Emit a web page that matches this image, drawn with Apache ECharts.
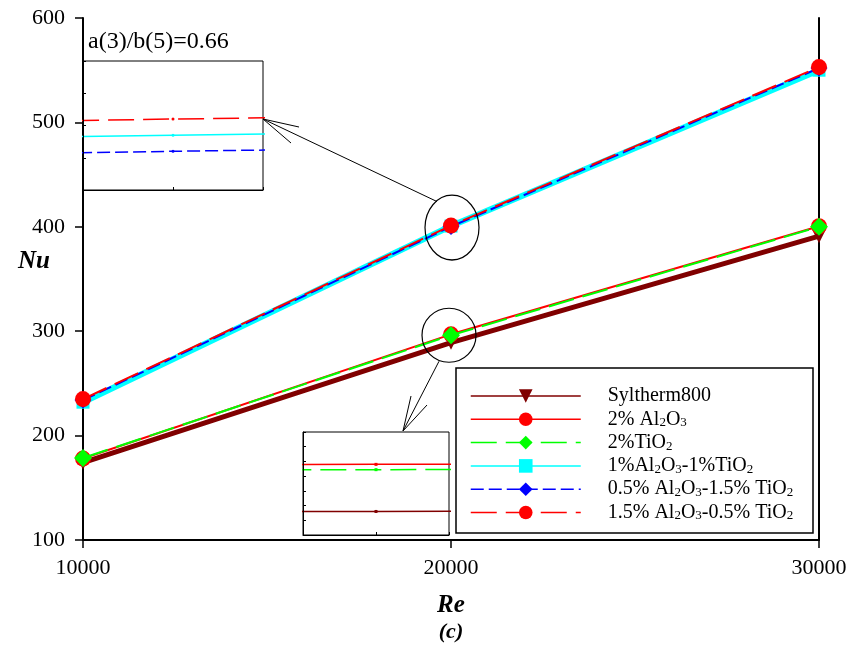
<!DOCTYPE html>
<html><head><meta charset="utf-8">
<script src="https://cdn.jsdelivr.net/npm/echarts@6/dist/echarts.min.js"></script>
<style>html,body{margin:0;padding:0;background:#fff}#c{width:851px;height:648px}</style>
</head><body><div id="c"></div>
<script>
// ---- data ----
const reValues = [10000, 20000, 30000];
const syltherm = [174, 289, 391];
const al2o3 = [178, 297, 400.5];
const tio2 = [178.5, 296.1, 400];
const hyb11 = [232, 400.7, 550];
const hyb0515 = [234, 400.2, 552];
const hyb1505 = [235, 401.2, 553];
const seriesNames = ['Syltherm800', '2% Al2O3', '2%TiO2', '1%Al2O3-1%TiO2', '0.5% Al2O3-1.5% TiO2', '1.5% Al2O3-0.5% TiO2'];
const legendRich = {
  'Syltherm800': 'Syltherm800',
  '2% Al2O3': '2% Al{s|2}O{s|3}',
  '2%TiO2': '2%TiO{s|2}',
  '1%Al2O3-1%TiO2': '1%Al{s|2}O{s|3}-1%TiO{s|2}',
  '0.5% Al2O3-1.5% TiO2': '0.5% Al{s|2}O{s|3}-1.5% TiO{s|2}',
  '1.5% Al2O3-0.5% TiO2': '1.5% Al{s|2}O{s|3}-0.5% TiO{s|2}'
};
const yTickMin = 100, yTickMax = 600, yTickStep = 100;
const xTickMin = 10000, xTickMax = 30000, xTickStep = 10000;

const FONT = 'Liberation Serif';
const pairs = arr => reValues.map((x, i) => [x, arr[i]]);

const styles = [
  {data: syltherm, color: '#800000', width: 5, type: 'solid', symbol: 'triangle', rot: 180, size: 14},
  {data: al2o3, color: '#ff0000', width: 2, type: 'solid', symbol: 'circle', rot: 0, size: 16},
  {data: tio2, color: '#00ff00', width: 2, type: [26, 9], symbol: 'diamond', rot: 0, size: 18},
  {data: hyb11, color: '#00ffff', width: 6, type: 'solid', symbol: 'rect', rot: 0, size: 13},
  {data: hyb0515, color: '#0000ff', width: 2, type: [13, 5], symbol: 'diamond', rot: 0, size: 17},
  {data: hyb1505, color: '#ff0000', width: 2, type: [26, 9], symbol: 'circle', rot: 0, size: 16}
];

const series = [];
styles.forEach((s, i) => {
  series.push({
    name: seriesNames[i], type: 'line', xAxisIndex: 0, yAxisIndex: 0,
    data: pairs(s.data), symbol: s.symbol, symbolRotate: s.rot, symbolSize: s.size,
    lineStyle: {color: s.color, width: s.width, type: s.type},
    itemStyle: {color: s.color}, animation: false, z: 2 + i * 0.01
  });
});
// upper inset (zoom of hybrid curves at Re=20000)
[3, 4, 5].forEach(i => {
  const s = styles[i];
  series.push({
    name: seriesNames[i] + ' (inset a)', type: 'line', xAxisIndex: 1, yAxisIndex: 2,
    data: pairs(s.data), symbol: 'circle', symbolSize: 3, clip: true, silent: true, z: 8,
    lineStyle: {color: s.color, width: 1.5, type: s.type}, itemStyle: {color: s.color}, animation: false
  });
});
// lower inset (zoom of base fluid / mono nanofluid curves at Re=20000)
[0, 1, 2].forEach(i => {
  const s = styles[i];
  series.push({
    name: seriesNames[i] + ' (inset b)', type: 'line', xAxisIndex: 2, yAxisIndex: 3,
    data: pairs(s.data), symbol: 'rect', symbolSize: 3, clip: true, silent: true, z: 8,
    lineStyle: {color: s.color, width: 1.5, type: s.type}, itemStyle: {color: s.color}, animation: false
  });
});

const insetAxis = {
  axisLine: {show: true, lineStyle: {color: '#000', width: 1}},
  axisTick: {show: true, inside: true, length: 3, lineStyle: {color: '#000'}},
  axisLabel: {show: false}, splitLine: {show: false}, z: 9
};

const chart = echarts.init(document.getElementById('c'));
const option = {
  backgroundColor: '#fff',
  animation: false,
  grid: [
    {left: 83, right: 32, top: 18, bottom: 108},
    {left: 83, top: 61, width: 180, height: 129, show: true, borderColor: '#000', borderWidth: 1, backgroundColor: '#fff'},
    {left: 303, top: 432, width: 146, height: 103, show: true, borderColor: '#000', borderWidth: 1, backgroundColor: '#fff'}
  ],
  xAxis: [
    {gridIndex: 0, type: 'value', min: xTickMin, max: xTickMax, interval: xTickStep,
     axisLine: {lineStyle: {color: '#000', width: 2}},
     axisTick: {length: 8, lineStyle: {color: '#000', width: 1.5}},
     axisLabel: {fontSize: 22, color: '#000', fontFamily: FONT, margin: 17, formatter: v => String(v)},
     splitLine: {show: false},
     name: 'Re', nameLocation: 'middle', nameGap: 53,
     nameTextStyle: {fontStyle: 'italic', fontWeight: 'bold', fontSize: 25, color: '#000', fontFamily: FONT}},
    Object.assign({gridIndex: 1, type: 'value', min: 19997.5, max: 20002.5, interval: 2.5}, insetAxis),
    Object.assign({gridIndex: 2, type: 'value', min: 19998, max: 20002, interval: 2}, insetAxis)
  ],
  yAxis: [
    {gridIndex: 0, type: 'value', min: yTickMin, max: yTickMax, interval: yTickStep,
     axisLine: {show: true, lineStyle: {color: '#000', width: 2}},
     axisTick: {show: true, length: 8, lineStyle: {color: '#000', width: 1.5}},
     axisLabel: {fontSize: 22, color: '#000', fontFamily: FONT, margin: 18},
     splitLine: {show: false}},
    {gridIndex: 0, type: 'value', position: 'right', min: yTickMin, max: yTickMax, interval: yTickStep,
     axisLine: {show: true, lineStyle: {color: '#000', width: 2}},
     axisTick: {show: false}, axisLabel: {show: false}, splitLine: {show: false}},
    Object.assign({gridIndex: 1, type: 'value', min: 399, max: 403, interval: 1}, insetAxis),
    Object.assign({gridIndex: 2, type: 'value', min: 285, max: 302.5, interval: 2.5}, insetAxis)
  ],
  legend: {
    orient: 'vertical', left: 470, top: 386, padding: 0, itemWidth: 110, itemHeight: 17, itemGap: 3.3,
    selectedMode: false, data: seriesNames, z: 10,
    lineStyle: {width: 1.5},
    formatter: name => legendRich[name],
    textStyle: {fontFamily: FONT, fontSize: 20, color: '#000', padding: [0, 0, 0, 22],
      rich: {s: {fontFamily: FONT, fontSize: 13, color: '#000', verticalAlign: 'bottom', padding: [7, 0, 0, 0]}}}
  },
  series: series
};
chart.setOption(option);

const pUp = chart.convertToPixel({xAxisIndex: 0, yAxisIndex: 0}, [reValues[1], hyb1505[1]]);
const pLo = chart.convertToPixel({xAxisIndex: 0, yAxisIndex: 0}, [reValues[1], tio2[1]]);
const ln = (x1, y1, x2, y2) => ({type: 'line', shape: {x1, y1, x2, y2}, style: {stroke: '#000', lineWidth: 1}, z: 20, silent: true});

chart.setOption({
  graphic: [
    {type: 'rect', shape: {x: 456, y: 368, width: 357, height: 165}, style: {fill: '#fff', stroke: '#000', lineWidth: 1.5}, z: 3, silent: true},
    {type: 'text', left: 88, top: 30, style: {text: 'a(3)/b(5)=0.66', fontFamily: FONT, fontSize: 24, fill: '#000'}, z: 20},
    {type: 'text', x: 34, y: 262, style: {text: 'Nu', fontFamily: FONT, fontSize: 25, fontStyle: 'italic', fontWeight: 'bold', fill: '#000', align: 'center', verticalAlign: 'middle'}, z: 20},
    {type: 'text', x: 451, y: 632, style: {text: '(c)', fontFamily: FONT, fontSize: 22, fontStyle: 'italic', fontWeight: 'bold', fill: '#000', align: 'center', verticalAlign: 'middle'}, z: 20},
    {type: 'circle', x: pUp[0] + 1, y: pUp[1] + 2, scaleY: 1.2, shape: {cx: 0, cy: 0, r: 27}, style: {fill: 'none', stroke: '#000', lineWidth: 1.2}, z: 20, silent: true},
    {type: 'circle', x: pLo[0] - 2, y: pLo[1], shape: {cx: 0, cy: 0, r: 27}, style: {fill: 'none', stroke: '#000', lineWidth: 1.2}, z: 20, silent: true},
    ln(263, 119, pUp[0] - 14, pUp[1] - 24),
    ln(263, 119, 299, 127),
    ln(263, 119, 291, 143),
    ln(pLo[0] - 12, pLo[1] + 26, 403, 431),
    ln(403, 431, 411, 396),
    ln(403, 431, 427, 405)
  ]
});
</script></body></html>
